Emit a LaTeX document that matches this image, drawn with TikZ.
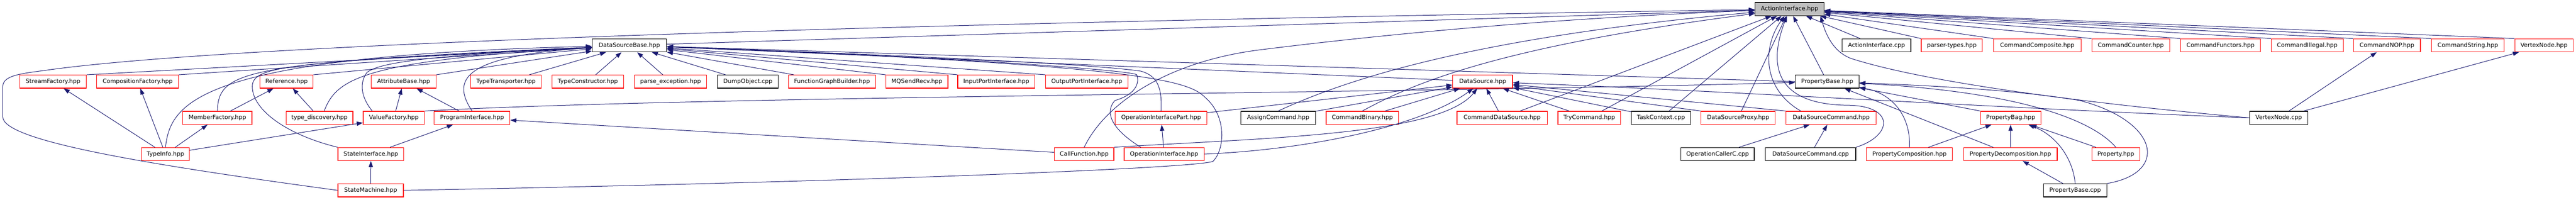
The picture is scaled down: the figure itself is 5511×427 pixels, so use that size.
\documentclass[tikz,border=0pt]{standalone}
\usepackage{fontspec}
\newfontfamily\dejavu{DejaVu Sans}
\usetikzlibrary{arrows.meta}
\definecolor{edgeblue}{RGB}{25,25,112}
\definecolor{boxgray}{RGB}{191,191,191}
\begin{document}
\begin{tikzpicture}[x=1pt,y=-1pt,->,>={Triangle[length=13pt,width=9pt]}]
	\tikzset{file/.style = {shape=rectangle, draw, line width=1.3pt, minimum height=28pt, inner sep=0pt, fill=white, font=\dejavu\fontsize{12.5}{15}\selectfont},
		redfile/.style = {file, draw=red},
		blackfile/.style = {file, draw=black},
		mainfile/.style = {file, draw=black, fill=boxgray},
		edge/.style = {draw=edgeblue, line width=1.1pt}}
	\useasboundingbox (0,0) rectangle (5511,427);
	
	\node[mainfile, minimum width=147pt] (ai) at (3828.5,19.5) {ActionInterface.hpp};
	
	\node[blackfile, minimum width=159pt] (dsb) at (1346.5,97) {DataSourceBase.hpp};
	\node[blackfile, minimum width=147pt] (aicpp) at (4014.5,97) {ActionInterface.cpp};
	\node[redfile, minimum width=131pt] (ptypes) at (4175.5,97) {parser-types.hpp};
	\node[redfile, minimum width=187pt] (ccomp) at (4358.5,97) {CommandComposite.hpp};
	\node[redfile, minimum width=167pt] (ccount) at (4558.5,97) {CommandCounter.hpp};
	\node[redfile, minimum width=171pt] (cfunc) at (4750.5,97) {CommandFunctors.hpp};
	\node[redfile, minimum width=154pt] (cill) at (4936,97) {CommandIllegal.hpp};
	\node[redfile, minimum width=143pt] (cnop) at (5106.5,97) {CommandNOP.hpp};
	\node[redfile, minimum width=155pt] (cstr) at (5279.5,97) {CommandString.hpp};
	\node[redfile, minimum width=125pt] (vnh) at (5442.5,97) {VertexNode.hpp};
	
	\node[redfile, minimum width=143pt] (sfac) at (113.5,174.5) {StreamFactory.hpp};
	\node[redfile, minimum width=175pt] (cfac) at (294.5,174.5) {CompositionFactory.hpp};
	\node[redfile, minimum width=114pt] (ref) at (613,174.5) {Reference.hpp};
	\node[redfile, minimum width=139pt] (ab) at (863.5,174.5) {AttributeBase.hpp};
	\node[redfile, minimum width=151pt] (ttr) at (1082.5,174.5) {TypeTransporter.hpp};
	\node[redfile, minimum width=153pt] (tcon) at (1257.5,174.5) {TypeConstructor.hpp};
	\node[redfile, minimum width=155pt] (pexc) at (1434.5,174.5) {parse\_exception.hpp};
	\node[blackfile, minimum width=130pt] (dump) at (1600,174.5) {DumpObject.cpp};
	\node[redfile, minimum width=186pt] (fgb) at (1780,174.5) {FunctionGraphBuilder.hpp};
	\node[redfile, minimum width=133pt] (mq) at (1961.5,174.5) {MQSendRecv.hpp};
	\node[redfile, minimum width=165pt] (ipi) at (2131.5,174.5) {InputPortInterface.hpp};
	\node[redfile, minimum width=176pt] (opi) at (2325,174.5) {OutputPortInterface.hpp};
	\node[redfile, minimum width=128pt] (ds) at (3172,174.5) {DataSource.hpp};
	\node[blackfile, minimum width=136pt] (pbh) at (3909,174.5) {PropertyBase.hpp};
	
	\node[redfile, minimum width=148pt] (mfac) at (465,252) {MemberFactory.hpp};
	\node[redfile, minimum width=143pt] (tdisc) at (683.5,252) {type\_discovery.hpp};
	\node[redfile, minimum width=131pt] (vfac) at (842.5,252) {ValueFactory.hpp};
	\node[redfile, minimum width=162pt] (pi) at (1010,252) {ProgramInterface.hpp};
	\node[redfile, minimum width=196pt] (oip) at (2484,252) {OperationInterfacePart.hpp};
	\node[blackfile, minimum width=159pt] (asgn) at (2734.5,252) {AssignCommand.hpp};
	\node[redfile, minimum width=155pt] (cbin) at (2914.5,252) {CommandBinary.hpp};
	\node[redfile, minimum width=193pt] (cds) at (3213.5,252) {CommandDataSource.hpp};
	\node[redfile, minimum width=134pt] (tryc) at (3400,252) {TryCommand.hpp};
	\node[blackfile, minimum width=127pt] (tc) at (3553.5,252) {TaskContext.cpp};
	\node[redfile, minimum width=159pt] (dsp) at (3718.5,252) {DataSourceProxy.hpp};
	\node[redfile, minimum width=193pt] (dsc) at (3917.5,252) {DataSourceCommand.hpp};
	\node[redfile, minimum width=129pt] (pbag) at (4301.5,252) {PropertyBag.hpp};
	\node[blackfile, minimum width=124pt] (vnc) at (4875,252) {VertexNode.cpp};
	
	\node[redfile, minimum width=102pt] (tinfo) at (354,329.5) {TypeInfo.hpp};
	\node[redfile, minimum width=141pt] (si) at (793.5,329.5) {StateInterface.hpp};
	\node[redfile, minimum width=127pt] (cf) at (2319.5,329.5) {CallFunction.hpp};
	\node[redfile, minimum width=171pt] (oi) at (2490.5,329.5) {OperationInterface.hpp};
	\node[blackfile, minimum width=157pt] (occ) at (3674.5,329.5) {OperationCallerC.cpp};
	\node[blackfile, minimum width=193pt] (dscc) at (3873.5,329.5) {DataSourceCommand.cpp};
	\node[redfile, minimum width=184pt] (pcomp) at (4085,329.5) {PropertyComposition.hpp};
	\node[redfile, minimum width=200pt] (pdec) at (4301,329.5) {PropertyDecomposition.hpp};
	\node[redfile, minimum width=103pt] (prop) at (4526.5,329.5) {Property.hpp};
	
	\node[redfile, minimum width=140pt] (sm) at (793,407) {StateMachine.hpp};
	\node[blackfile, minimum width=135pt] (pbc) at (4439.5,407) {PropertyBase.cpp};
	
	\draw[edge] (sm.west) .. controls (300,350) and (6,300) .. (6,250) -- (6,185) .. controls (6,160) and (50,157) .. (100,150) .. controls (600,80) and (2500,40) .. (ai);
	\draw[edge] (dsb) -- (ai);
	\draw[edge] (cf.north) .. controls (2365,220) and (2500,130) .. (2700,106) .. controls (2950,75) and (3300,40) .. (ai);
	\draw[edge] (asgn.north) .. controls (2880,170) and (3150,80) .. (ai);
	\draw[edge] (cbin.north) .. controls (3020,180) and (3200,100) .. (ai);
	\draw[edge] (cds) -- (ai);
	\draw[edge] (tryc) -- (ai);
	\draw[edge] (tc) -- (ai);
	\draw[edge] (dsp) -- (ai);
	\draw[edge] ([xshift=-65pt]dsc.north) .. controls (3770,190) and (3770,100) .. (ai);
	\draw[edge] (dscc.north east) .. controls (4050,290) and (4055,225) .. (3950,225) .. controls (3780,222) and (3790,120) .. (ai);
	\draw[edge] (pbh) -- (ai);
	\draw[edge] (vnc.west) .. controls (4400,215) and (4100,170) .. (3960,125) .. controls (3920,110) and (3905,70) .. ([xshift=-8pt]ai.south east);
	\draw[edge] (aicpp) -- (ai);
	\draw[edge] (ptypes.north west) -- (ai);
	\draw[edge] (ccomp.north west) -- (ai);
	\draw[edge] (ccount.north west) -- (ai);
	\draw[edge] (cfunc.north west) -- (ai);
	\draw[edge] (cill.north west) -- (ai);
	\draw[edge] (cnop.north west) -- (ai);
	\draw[edge] (cstr.north west) -- (ai);
	\draw[edge] (vnh.north west) -- (ai);
	
	\draw[edge] (sfac.north east) -- (dsb);
	\draw[edge] (cfac.north east) -- (dsb);
	\draw[edge] (ref.north east) -- (dsb);
	\draw[edge] (ab.north east) -- (dsb);
	\draw[edge] (tinfo.north) .. controls (365,220) and (420,120) .. (dsb);
	\draw[edge] (mfac.north) .. controls (468,150) and (520,135) .. (dsb);
	\draw[edge] (si.north west) .. controls (620,290) and (545,240) .. (540,190) .. controls (535,140) and (600,135) .. (dsb);
	\draw[edge] ([xshift=10pt]tdisc.north) .. controls (720,170) and (770,130) .. (dsb);
	\draw[edge] ([xshift=20pt]vfac.north west) .. controls (770,205) and (770,175) .. (785,155) .. controls (810,135) and (900,120) .. (dsb);
	\draw[edge] (pi.north) .. controls (965,170) and (990,120) .. (dsb);
	\draw[edge] (ttr) -- (dsb);
	\draw[edge] (tcon) -- (dsb);
	\draw[edge] (pexc) -- (dsb);
	\draw[edge] (dump) -- (dsb);
	\draw[edge] (fgb) -- (dsb);
	\draw[edge] (mq.north west) -- (dsb);
	\draw[edge] (ipi.north west) -- (dsb);
	\draw[edge] (opi.north west) -- (dsb);
	\draw[edge] (oip.north) .. controls (2486,190) and (2478,162) .. (2440,152) .. controls (2300,132) and (1700,110) .. (dsb);
	\draw[edge] ([xshift=-50pt]oi.north) .. controls (2400,290) and (2355,250) .. (2385,215) .. controls (2420,205) and (2440,185) .. (2432,160) .. controls (2425,150) and (2000,120) .. (dsb);
	\draw[edge] (sm.east) .. controls (1800,390) and (2560,360) .. (2595,345) .. controls (2620,320) and (2625,250) .. (2580,210) .. controls (2545,175) and (2480,140) .. (dsb);
	\draw[edge] (ds) -- (dsb);
	\draw[edge] (pbh.west) -- (dsb);
	
	\draw[edge] (oip) -- (ds);
	\draw[edge] (asgn) -- (ds);
	\draw[edge] (cbin) -- (ds);
	\draw[edge] (cds) -- (ds);
	\draw[edge] (tryc) -- (ds);
	\draw[edge] (tc) -- (ds);
	\draw[edge] (dsp.north west) -- (ds);
	\draw[edge] (dsc.north west) -- (ds);
	\draw[edge] (vnc.west) .. controls (4300,232) and (3700,195) .. (ds);
	\draw[edge] (cf.north east) .. controls (2700,295) and (3080,290) .. (ds);
	\draw[edge] (oi.east) .. controls (2800,320) and (3040,270) .. (ds);
	
	\draw[edge] (vfac.north east) .. controls (1500,205) and (3000,200) .. (pbh);
	\draw[edge] (pbag.north west) -- (pbh);
	\draw[edge] (pcomp.north) .. controls (4088,250) and (4050,200) .. (pbh);
	\draw[edge] (pdec) -- (pbh);
	\draw[edge] (prop.north) .. controls (4470,250) and (4300,195) .. (pbh);
	\draw[edge] (pbc.north east) .. controls (4640,370) and (4620,260) .. (4450,215) .. controls (4300,190) and (4100,182) .. (pbh);
	
	\draw[edge] (pcomp) -- (pbag);
	\draw[edge] (pdec) -- (pbag);
	\draw[edge] (prop) -- (pbag);
	\draw[edge] (pbc.north) .. controls (4435,340) and (4400,290) .. (pbag);
	\draw[edge] (pbc) -- (pdec);
	\draw[edge] (occ) -- (dsc);
	\draw[edge] (dscc) -- (dsc);
	
	\draw[edge] (tinfo) -- (sfac);
	\draw[edge] (tinfo) -- (cfac);
	\draw[edge] (tinfo) -- (mfac);
	\draw[edge] (tinfo) -- (vfac);
	\draw[edge] (mfac) -- (ref);
	\draw[edge] (tdisc) -- (ref);
	\draw[edge] (vfac) -- (ab);
	\draw[edge] (pi) -- (ab);
	\draw[edge] (si) -- (pi);
	\draw[edge] (sm) -- (si);
	\draw[edge] (cf) -- (pi);
	\draw[edge] (oi) -- (oip);
	\draw[edge] (vnc) -- (cnop);
	\draw[edge] (vnc) -- (vnh);
	
\end{tikzpicture}
\end{document}
